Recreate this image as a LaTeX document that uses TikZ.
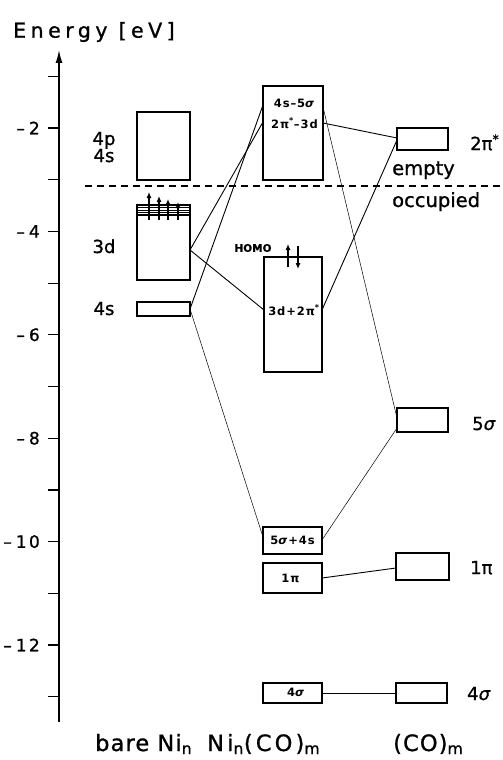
\documentclass[tikz,border=0pt]{standalone}
\usepackage{fontspec}
\setmainfont{DejaVu Sans}[FakeBold=1]
\newfontfamily\widesp{DejaVu Sans}[LetterSpace=22,FakeBold=1]
\newfontfamily\ticksp{DejaVu Sans}[LetterSpace=14,FakeBold=1]
\newfontfamily\smallsp{DejaVu Sans}[LetterSpace=8]
\newfontfamily\botsp{DejaVu Sans}[LetterSpace=5,FakeBold=1]
\newfontfamily\botwide{DejaVu Sans}[LetterSpace=14,FakeBold=1]
\usetikzlibrary{arrows.meta,calc}
\newcommand\lvlbox[5]{\node[lvl,minimum width={(#4-#2)*1pt},minimum height={(#5-#3)*1pt}] (#1) at ({(#2+#4)/2},{(#3+#5)/2}) {};}
\begin{document}
\begin{tikzpicture}[x=1pt,y=-1pt,
  lvl/.style={draw, line width=2.5pt, inner sep=0pt, outer sep=0pt},
  conn/.style={line width=0.9pt},
  fine/.style={line width=0.5pt},
  blab/.style={font=\smallsp\bfseries\fontsize{11.5}{11.5}\selectfont, inner sep=0pt},
  lab/.style={font=\fontsize{18}{18}\selectfont, inner sep=0pt, anchor=base},
  rlab/.style={font=\fontsize{18}{18}\selectfont, inner sep=0pt, anchor=base west},
  tlab/.style={font=\ticksp\fontsize{17}{17}\selectfont, inner sep=0pt, anchor=east},
  spin/.style={line width=1.1pt, -{Latex[length=6pt,width=5pt]}}]
\useasboundingbox (0,0) rectangle (503,760);

% axis
\draw[line width=1.4pt, -{Latex[length=13pt,width=7pt]}] (59,722) -- (59,50);
\foreach \k in {1,...,13} \draw[line width=1.2pt] (48,{24.6+51.7*\k}) -- (59,{24.6+51.7*\k});
\foreach \k in {2,4,...,12} \node[tlab] at (40,{24.6+51.7*\k}) {–\hspace{4pt}\k};
\node[anchor=west, font=\widesp\fontsize{20.5}{20.5}\selectfont, inner sep=0pt] (ylab) at (13,32) {Energy [eV]};

% dashed Fermi line
\coordinate (fl) at (85,186);
\coordinate (fr) at (503,186);
\draw[line width=1.3pt, dash pattern=on 7pt off 5pt] (fl) -- (fr);

% bare Ni_n
\lvlbox{NiP}{137}{112}{190}{180}
\lvlbox{Ni3d}{137}{205}{190}{280}
\lvlbox{Ni4s}{137}{302}{190}{316}
\foreach \yy in {207.5,210,212.5} \draw[line width=0.6pt] (Ni3d.west |- 0,\yy) -- (Ni3d.east |- 0,\yy);
\draw[line width=1.2pt] (Ni3d.west |- 0,215) -- (Ni3d.east |- 0,215);
\foreach \xx/\yt in {149/192,159/196,168/199,178/202}
  \draw[spin] (\xx,220) -- (\xx,\yt);
\node[lab] (l4p) at (104,145) {4p};
\node[lab] (l4s) at (104,162) {4s};
\node[lab] (l3d) at (104,253) {3d};
\node[lab] (l4sb) at (104,315) {4s};

% Ni_n(CO)_m
\lvlbox{M1}{263}{86}{323}{180}
\lvlbox{M2}{264}{257}{322}{372}
\lvlbox{M3}{263}{527}{322}{554}
\lvlbox{M4}{263}{563}{322}{593}
\lvlbox{M5}{263}{683}{322}{703}
\node[blab] (t1) at (294.5,103) {4s–5\textit{σ}};
\node[blab] (t2) at (294.5,123) {2π\textsuperscript{*}–3d};
\node[blab] (t3) at (294,310) {3d+2π\textsuperscript{*}};
\node[blab] (t4) at (292.5,540) {5\textit{σ}+4s};
\node[blab] (t5) at (290.5,578) {1π};
\node[blab] (t6) at (296,692) {4\textit{σ}};
\node[font=\bfseries\fontsize{10.5}{10.5}\selectfont, inner sep=0pt] (homo) at (253,248) {HOMO};
\draw[spin] (288,267) -- (288,244);
\draw[spin] (298,246) -- (298,269);

% (CO)_m
\lvlbox{R1}{397}{128}{448}{150}
\lvlbox{R2}{397}{408}{448}{432}
\lvlbox{R3}{396}{553}{449}{580}
\lvlbox{R4}{396}{683}{447}{703}
\node[rlab] (r1) at (470,150) {2π\textsuperscript{*}};
\node[rlab] (r2) at (472,430) {5\textit{σ}};
\node[rlab] (r3) at (470,574) {1π};
\node[rlab] (r4) at (467,700) {4\textit{σ}};
\node[font=\fontsize{19.5}{19.5}\selectfont, inner sep=0pt, anchor=base west] (emp) at (392,175) {empty};
\node[font=\fontsize{19.5}{19.5}\selectfont, inner sep=0pt, anchor=base west] (occ) at (392,207) {occupied};

% connectors
\draw[conn] (Ni3d.east |- 0,250) -- (M1.west |- 0,122);
\draw[conn] (Ni4s.east |- 0,309) -- (M1.west |- 0,105);
\draw[conn] (Ni3d.east |- 0,250) -- (M2.west |- 0,310);
\draw[fine] (Ni4s.east |- 0,309) -- (M3.west |- 0,537);
\draw[conn] (M1.east |- 0,123) -- (R1.west |- 0,138);
\draw[conn] (M2.east |- 0,310) -- (R1.west |- 0,140);
\draw[fine] (M1.east |- 0,107) -- (R2.west |- 0,418);
\draw[fine] (M3.east |- 0,540) -- (R2.west |- 0,428);
\draw[conn] (M4.east |- 0,578) -- (R3.west |- 0,568);
\draw[conn] (M5.east |- 0,693) -- (R4.west |- 0,693);

% column labels
\node[font=\botsp\fontsize{22.5}{22.5}\selectfont, inner sep=0pt, anchor=base west] (c1) at (95,751) {bare Ni\textsubscript{n}};
\node[font=\botwide\fontsize{22.5}{22.5}\selectfont, inner sep=0pt, anchor=base west] (c2) at (207,751) {Ni\textsubscript{n}(CO)\textsubscript{m}};
\node[font=\botsp\fontsize{22.5}{22.5}\selectfont, inner sep=0pt, anchor=base west] (c3) at (393,751) {(CO)\textsubscript{m}};
\end{tikzpicture}
\end{document}
